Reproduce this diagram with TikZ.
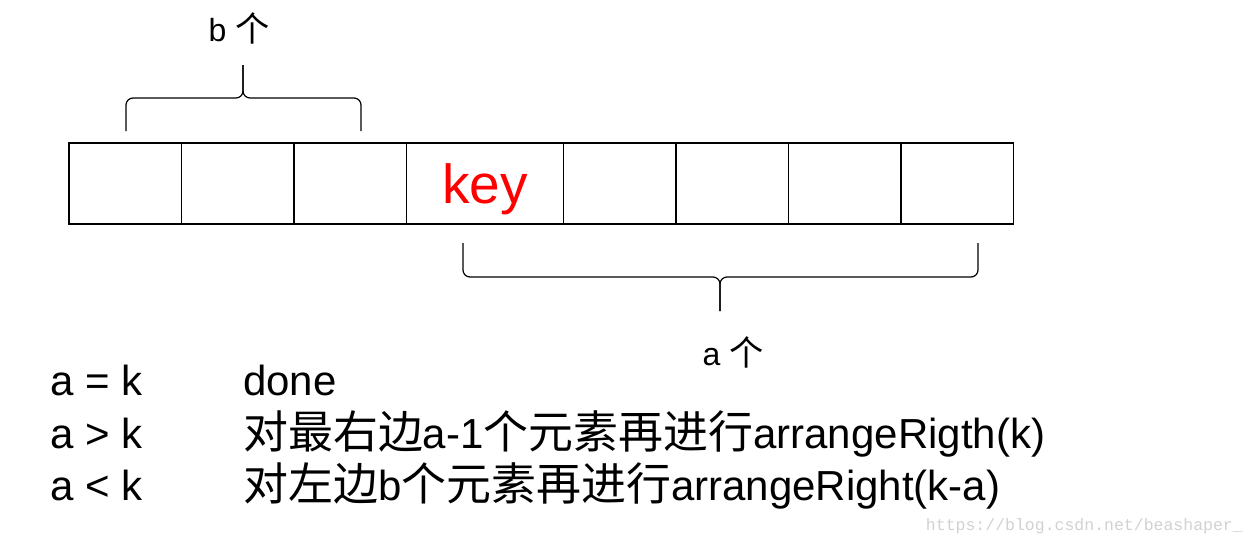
\documentclass[tikz,border=0pt]{standalone}
\usepackage{fontspec}
\setmainfont{Liberation Sans}
\newfontfamily\cjk[Scale=1.07]{Noto Sans CJK SC}
\newfontfamily\wmfont{Liberation Mono}
\usetikzlibrary{positioning}
\tikzset{
  cell/.style={draw, line width=1.3pt, minimum width=112.5pt, minimum height=81pt, inner sep=0pt, outer sep=0pt},
  brace/.style={line width=1.2pt, rounded corners=7pt},
  rule/.style={anchor=base west, inner sep=0pt, font=\fontsize{42}{50}\selectfont},
  count/.style={inner sep=0pt, font=\fontsize{32}{38}\selectfont}
}

\begin{document}
\begin{tikzpicture}[x=1pt,y=1pt]
    \useasboundingbox (0,0) rectangle (1254,-546);
    % the row of cells
    \node[cell, anchor=north west] (c1) at (69,-143) {};
    \node[cell, right=0pt of c1] (c2) {};
    \node[cell, right=0pt of c2] (c3) {};
    \node[cell, right=0pt of c3, minimum width=157pt, text=red, text depth=0pt,
      font=\fontsize{55}{60}\selectfont] (key) {key};
    \node[cell, right=0pt of key] (c5) {};
    \node[cell, right=0pt of c5] (c6) {};
    \node[cell, right=0pt of c6] (c7) {};
    \node[cell, right=0pt of c7] (c8) {};
    % upper brace
    \coordinate (bl) at (126,-131); \coordinate (br) at (361,-131);
    \coordinate (bm) at (243,-98); \coordinate (bt) at (243,-65);
    \draw[brace] (bl) |- (bm) -- (bt);
    \draw[brace] (br) |- (bm) -- (bt);
    \node[count] (bn) at (239,-28) {b {\cjk 个}};
    % lower brace
    \coordinate (al) at (463,-243); \coordinate (ar) at (978,-243);
    \coordinate (am) at (720,-277); \coordinate (at) at (720,-311);
    \draw[brace] (al) |- (am) -- (at);
    \draw[brace] (ar) |- (am) -- (at);
    \node[count] (an) at (733,-352) {a {\cjk 个}};
    % cases
    \node[rule] (r1) at (50,-395) {a = k};
    \node[rule] (r2) at (50,-448) {a > k};
    \node[rule] (r3) at (50,-500) {a < k};
    \node[rule] (d1) at (243,-395) {done};
    \node[rule] (d2) at (243,-448)
    {{\cjk 对最右边}a-1{\cjk 个元素再进行}arrangeRigth(k)};
    \node[rule] (d3) at (243,-500)
    {{\cjk 对左边}b{\cjk 个元素再进行}arrangeRight(k-a)};
    \node[anchor=east, inner sep=0pt, text=black!18,
      font=\wmfont\fontsize{16.5}{18}\selectfont] (wm) at (1243,-526)
    {https://blog.csdn.net/beashaper\_};
  \end{tikzpicture}
\end{document}
